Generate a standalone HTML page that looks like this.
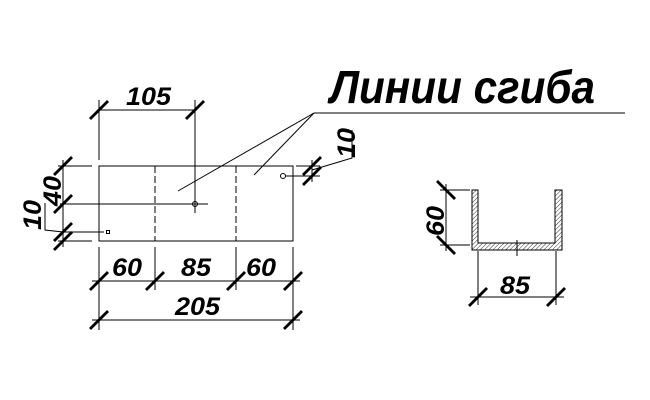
<!DOCTYPE html>
<html><head><meta charset="utf-8"><style>
html,body{margin:0;padding:0;background:#fff;}
svg{display:block;}
text{font-family:"Liberation Sans",sans-serif;font-style:italic;font-weight:bold;fill:#000;}
</style></head><body>
<svg width="650" height="400" viewBox="0 0 650 400" xmlns="http://www.w3.org/2000/svg">
<defs>
<pattern id="h" width="3" height="3" patternUnits="userSpaceOnUse" patternTransform="rotate(45)">
<line x1="0" y1="0" x2="0" y2="3" stroke="#000" stroke-width="0.8"/>
</pattern>
</defs>
<g stroke="#000" stroke-width="1" fill="none">
<rect x="99" y="166" width="194" height="75"/>
<line x1="155" y1="166" x2="155" y2="241" stroke-dasharray="7,3"/>
<line x1="236" y1="166" x2="236" y2="241" stroke-dasharray="7,3"/>
<line x1="99" y1="110" x2="195" y2="110"/>
<line x1="99" y1="100" x2="99" y2="160"/>
<line x1="195" y1="100" x2="195" y2="213"/>
<line x1="60" y1="204" x2="208" y2="204"/>
<circle cx="195" cy="204" r="2.5"/>
<line x1="58" y1="166" x2="92" y2="166"/>
<line x1="63" y1="160" x2="63" y2="247"/>
<line x1="62" y1="232" x2="104" y2="232"/>
<line x1="58" y1="241" x2="92" y2="241"/>
<rect x="106.5" y="230.5" width="3" height="3"/>
<polyline points="63,232 45,230 45,203"/>
<circle cx="283" cy="176" r="2.5"/>
<line x1="286" y1="176" x2="320" y2="176"/>
<line x1="296" y1="166" x2="320" y2="166"/>
<line x1="312" y1="160" x2="312" y2="182"/>
<polyline points="312,170 352,158 352,130"/>
<line x1="314" y1="113" x2="178" y2="191"/>
<line x1="314" y1="113" x2="254" y2="175"/>
<line x1="314" y1="113" x2="625" y2="113"/>
<line x1="99" y1="247" x2="99" y2="330"/>
<line x1="155" y1="247" x2="155" y2="290"/>
<line x1="236" y1="247" x2="236" y2="290"/>
<line x1="293" y1="247" x2="293" y2="330"/>
<line x1="92" y1="281" x2="300" y2="281"/>
<line x1="92" y1="320" x2="300" y2="320"/>
<line x1="440" y1="190" x2="470" y2="190"/>
<line x1="440" y1="245" x2="470" y2="245"/>
<line x1="446" y1="184" x2="446" y2="251"/>
<line x1="478" y1="251" x2="478" y2="305"/>
<line x1="556" y1="251" x2="556" y2="305"/>
<line x1="470" y1="297" x2="564" y2="297"/>
<line x1="517" y1="240" x2="517" y2="256"/>
</g>
<g stroke="#000" stroke-width="2.8">
<line x1="90" y1="119" x2="108" y2="101"/>
<line x1="186" y1="119" x2="204" y2="101"/>
<line x1="54" y1="175" x2="72" y2="157"/>
<line x1="54" y1="213" x2="72" y2="195"/>
<line x1="54" y1="241" x2="72" y2="223"/>
<line x1="54" y1="250" x2="72" y2="232"/>
<line x1="303" y1="175" x2="321" y2="157"/>
<line x1="303" y1="185" x2="321" y2="167"/>
<line x1="90" y1="290" x2="108" y2="272"/>
<line x1="146" y1="290" x2="164" y2="272"/>
<line x1="227" y1="290" x2="245" y2="272"/>
<line x1="284" y1="290" x2="302" y2="272"/>
<line x1="90" y1="329" x2="108" y2="311"/>
<line x1="284" y1="329" x2="302" y2="311"/>
<line x1="437" y1="181" x2="455" y2="199"/>
<line x1="437" y1="236" x2="455" y2="254"/>
<line x1="469" y1="306" x2="487" y2="288"/>
<line x1="547" y1="306" x2="565" y2="288"/>
</g>
<path d="M472,190 H478 V243 H555 V190 H562 V250 H472 Z" fill="url(#h)" stroke="#000" stroke-width="1"/>
<text x="330" y="103" font-size="46" textLength="265" lengthAdjust="spacingAndGlyphs">Линии сгиба</text>
<text x="126" y="105" font-size="25" textLength="45" lengthAdjust="spacingAndGlyphs">105</text>
<text x="112" y="276" font-size="25" textLength="30" lengthAdjust="spacingAndGlyphs">60</text>
<text x="181" y="276" font-size="25" textLength="30" lengthAdjust="spacingAndGlyphs">85</text>
<text x="246" y="276" font-size="25" textLength="30" lengthAdjust="spacingAndGlyphs">60</text>
<text x="175" y="315" font-size="25" textLength="45" lengthAdjust="spacingAndGlyphs">205</text>
<text x="500" y="294" font-size="25" textLength="30" lengthAdjust="spacingAndGlyphs">85</text>
<text transform="translate(61,206) rotate(-90)" font-size="25" textLength="30" lengthAdjust="spacingAndGlyphs">40</text>
<text transform="translate(41,230) rotate(-90)" font-size="25" textLength="30" lengthAdjust="spacingAndGlyphs">10</text>
<text transform="translate(355,158) rotate(-90)" font-size="25" textLength="30" lengthAdjust="spacingAndGlyphs">10</text>
<text transform="translate(444,236) rotate(-90)" font-size="25" textLength="30" lengthAdjust="spacingAndGlyphs">60</text>
</svg>
</body></html>
